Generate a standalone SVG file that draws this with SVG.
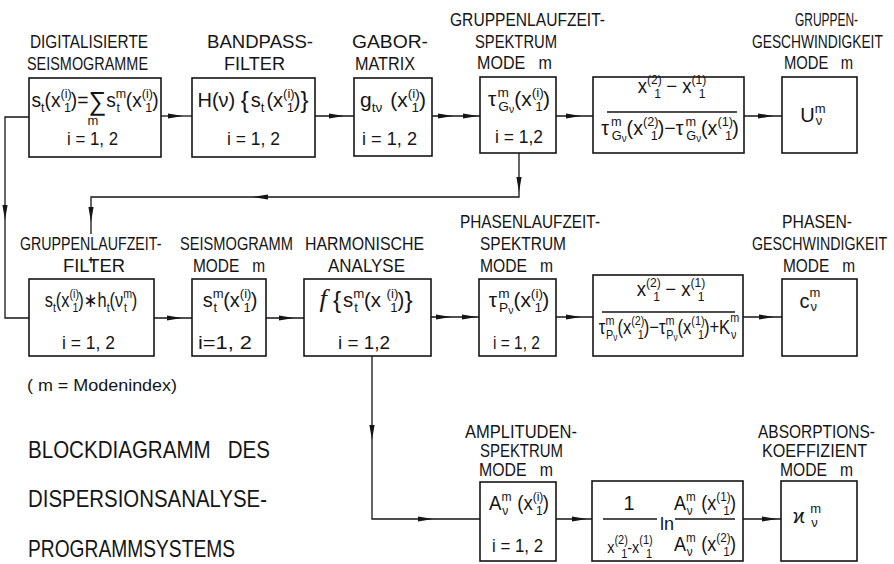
<svg xmlns="http://www.w3.org/2000/svg" width="894" height="564" viewBox="0 0 894 564">
<style>
.bx{fill:#fff;stroke:#151515;stroke-width:1.6}
.cn{fill:none;stroke:#151515;stroke-width:1.3}
.ah{fill:#151515}
text{font-family:"Liberation Sans",Arial,"DejaVu Sans",sans-serif;fill:#151515}
.lb{font-size:18px}
.f{font-size:20px;text-anchor:middle}
.sc{font-size:13px}
.ss{font-size:10px}
.big{font-size:26px}
.br{font-size:24px}
.ii{font-size:18px}
.ft{font-size:16px}
.bl{font-size:24px}
</style>
<defs>
<path id="ah" d="M0,0 L-15,-2.6 L-15,2.6 Z"/>
</defs>
<rect width="894" height="564" fill="#fff"/>

<g id="connectors">
<path class="cn" d="M29,117 H5 V318 H29"/>
<path class="cn" d="M161,116 H192"/>
<path class="cn" d="M315,116 H354"/>
<path class="cn" d="M432,116 H480"/>
<path class="cn" d="M556,116 H593"/>
<path class="cn" d="M744,116 H782"/>
<path class="cn" d="M519,153 V197 H91 V234"/>
<path class="cn" d="M91,257 V263"/>
<path class="cn" d="M154,318 H192"/>
<path class="cn" d="M266,318 H304"/>
<path class="cn" d="M431,317 H479"/>
<path class="cn" d="M556,317 H593"/>
<path class="cn" d="M743,317 H782"/>
<path class="cn" d="M372,356 V519 H480"/>
<path class="cn" d="M556,519 H592"/>
<path class="cn" d="M743,519 H781"/>
<use href="#ah" class="ah" transform="translate(5,220) rotate(90)"/>
<use href="#ah" class="ah" transform="translate(183,116)"/>
<use href="#ah" class="ah" transform="translate(344,116)"/>
<use href="#ah" class="ah" transform="translate(453,116)"/>
<use href="#ah" class="ah" transform="translate(478,116)"/>
<use href="#ah" class="ah" transform="translate(581,116)"/>
<use href="#ah" class="ah" transform="translate(773,116)"/>
<use href="#ah" class="ah" transform="translate(519,192) rotate(90)"/>
<use href="#ah" class="ah" transform="translate(253,197) rotate(180)"/>
<use href="#ah" class="ah" transform="translate(91,222) rotate(90)"/>
<use href="#ah" class="ah" transform="translate(182,318)"/>
<use href="#ah" class="ah" transform="translate(294,318)"/>
<use href="#ah" class="ah" transform="translate(451,317)"/>
<use href="#ah" class="ah" transform="translate(477,317)"/>
<use href="#ah" class="ah" transform="translate(581,317)"/>
<use href="#ah" class="ah" transform="translate(774,317)"/>
<use href="#ah" class="ah" transform="translate(372,440) rotate(90)"/>
<use href="#ah" class="ah" transform="translate(433,519)"/>
<use href="#ah" class="ah" transform="translate(587,519)"/>
<use href="#ah" class="ah" transform="translate(777,519)"/>
</g>

<g id="n-digital">
<text class="lb" x="30" y="48" textLength="118" lengthAdjust="spacingAndGlyphs">DIGITALISIERTE</text>
<text class="lb" x="27" y="70" textLength="121" lengthAdjust="spacingAndGlyphs">SEISMOGRAMME</text>
<rect class="bx" x="29" y="78" width="132" height="79"/>
<text class="f" transform="translate(95,107) scale(0.96,1)">s<tspan class="sc" dy="5">t</tspan><tspan dy="-5">(x</tspan><tspan class="sc" dy="-9">(i)</tspan><tspan class="sc" dx="-8" dy="14">1</tspan><tspan dy="-5">)=</tspan><tspan class="big" dy="3">∑</tspan><tspan dy="-3">s</tspan><tspan class="sc" dy="-9">m</tspan><tspan class="sc" dx="-10" dy="14">t</tspan><tspan dx="6" dy="-5">(x</tspan><tspan class="sc" dy="-9">(i)</tspan><tspan class="sc" dx="-8" dy="14">1</tspan><tspan dy="-5">)</tspan></text>
<text class="sc" x="93" y="125" text-anchor="middle">m</text>
<text class="ii" x="67" y="145" textLength="51" lengthAdjust="spacingAndGlyphs">i = 1, 2</text>
</g>

<g id="n-bandpass">
<text class="lb" x="207" y="48" textLength="106" lengthAdjust="spacingAndGlyphs">BANDPASS-</text>
<text class="lb" x="224" y="70" textLength="61" lengthAdjust="spacingAndGlyphs">FILTER</text>
<rect class="bx" x="192" y="78" width="123" height="79"/>
<text class="f" transform="translate(253,107)">H(ν) <tspan class="br" dy="1">{</tspan><tspan dx="2" dy="-1">s</tspan><tspan class="sc" dy="5">t</tspan><tspan dx="2" dy="-5">(x</tspan><tspan class="sc" dy="-9">(i)</tspan><tspan class="sc" dx="-8" dy="14">1</tspan><tspan dy="-5">)</tspan><tspan class="br" dy="1">}</tspan></text>
<text class="ii" x="227" y="145" textLength="53" lengthAdjust="spacingAndGlyphs">i = 1, 2</text>
</g>

<g id="n-gabor">
<text class="lb" x="352" y="48" textLength="76" lengthAdjust="spacingAndGlyphs">GABOR-</text>
<text class="lb" x="355" y="70" textLength="60" lengthAdjust="spacingAndGlyphs">MATRIX</text>
<rect class="bx" x="354" y="78" width="78" height="78"/>
<text class="f" transform="translate(393,107) scale(1.05,1)">g<tspan class="sc" dy="5">tν</tspan><tspan dx="2" dy="-5"> (x</tspan><tspan class="sc" dy="-9">(i)</tspan><tspan class="sc" dx="-8" dy="14">1</tspan><tspan dy="-5">)</tspan></text>
<text class="ii" x="362" y="145" textLength="55" lengthAdjust="spacingAndGlyphs">i = 1, 2</text>
</g>

<g id="n-gruppenlaufzeitspektrum">
<text class="lb" x="450" y="26" textLength="155" lengthAdjust="spacingAndGlyphs">GRUPPENLAUFZEIT-</text>
<text class="lb" x="475" y="48" textLength="82" lengthAdjust="spacingAndGlyphs">SPEKTRUM</text>
<text class="lb" x="477" y="69" textLength="75" lengthAdjust="spacingAndGlyphs" xml:space="preserve">MODE   m</text>
<rect class="bx" x="480" y="77" width="76" height="76"/>
<text class="f" transform="translate(519,106) scale(1.05,1)">τ<tspan class="sc" dx="1" dy="-9">m</tspan><tspan class="sc" dx="-10" dy="14">G</tspan><tspan class="ss" dy="2">ν</tspan><tspan dy="-7">(x</tspan><tspan class="sc" dy="-9">(i)</tspan><tspan class="sc" dx="-8" dy="14">1</tspan><tspan dy="-5">)</tspan></text>
<text class="ii" x="495" y="143" textLength="48" lengthAdjust="spacingAndGlyphs">i = 1,2</text>
</g>

<g id="n-gruppenformel">
<rect class="bx" x="593" y="77" width="151" height="76"/>
<text class="f" transform="translate(672,93) scale(0.93,1)">x<tspan class="sc" dy="-9">(2)</tspan><tspan class="sc" dx="-8" dy="14">1</tspan><tspan dy="-5">  −  x</tspan><tspan class="sc" dy="-9">(1)</tspan><tspan class="sc" dx="-8" dy="14">1</tspan></text>
<path class="cn" d="M607,112 H737"/>
<text class="f" transform="translate(670,135) scale(0.98,1)">τ<tspan class="sc" dx="2" dy="-9">m</tspan><tspan class="sc" dx="-10" dy="14">G</tspan><tspan class="ss" dy="2">ν</tspan><tspan dy="-7">(x</tspan><tspan class="sc" dy="-9">(2)</tspan><tspan class="sc" dx="-8" dy="14">1</tspan><tspan dy="-5">)−τ</tspan><tspan class="sc" dx="2" dy="-9">m</tspan><tspan class="sc" dx="-10" dy="14">G</tspan><tspan class="ss" dy="2">ν</tspan><tspan dy="-7">(x</tspan><tspan class="sc" dy="-9">(1)</tspan><tspan class="sc" dx="-8" dy="14">1</tspan><tspan dy="-5">)</tspan></text>
</g>

<g id="n-gruppengeschwindigkeit">
<text class="lb" x="795" y="26" textLength="63" lengthAdjust="spacingAndGlyphs">GRUPPEN-</text>
<text class="lb" transform="translate(752,48) scale(0.766,1)">GESCHWINDIGKEIT</text>
<text class="lb" x="784" y="69" textLength="69" lengthAdjust="spacingAndGlyphs" xml:space="preserve">MODE   m</text>
<rect class="bx" x="782" y="77" width="75" height="76"/>
<text class="f" transform="translate(813,122)">U<tspan class="sc" dy="-9">m</tspan><tspan class="sc" dx="-10" dy="12">ν</tspan></text>
</g>

<g id="n-gruppenlaufzeitfilter">
<text class="lb" transform="translate(20,250) scale(0.79,1)">GRUPPENLAUFZEIT-</text>
<text class="lb" x="63" y="272" textLength="62" lengthAdjust="spacingAndGlyphs">FILTER</text>
<rect class="bx" x="29" y="279" width="125" height="77"/>
<text class="f" transform="translate(91,307) scale(0.82,1)">s<tspan class="sc" dy="5">t</tspan><tspan dy="-5">(x</tspan><tspan class="sc" dy="-9">(i)</tspan><tspan class="sc" dx="-8" dy="14">1</tspan><tspan dy="-5">)∗h</tspan><tspan class="sc" dy="5">t</tspan><tspan dy="-5">(ν</tspan><tspan class="sc" dy="-9">m</tspan><tspan class="sc" dx="-10" dy="14">t</tspan><tspan dx="6" dy="-5">)</tspan></text>
<text class="ii" x="62" y="349" textLength="53" lengthAdjust="spacingAndGlyphs">i = 1, 2</text>
</g>

<g id="n-seismogramm">
<text class="lb" x="180" y="250" textLength="113" lengthAdjust="spacingAndGlyphs">SEISMOGRAMM</text>
<text class="lb" x="193" y="272" textLength="72" lengthAdjust="spacingAndGlyphs" xml:space="preserve">MODE   m</text>
<rect class="bx" x="192" y="279" width="74" height="77"/>
<text class="f" transform="translate(230,307)">s<tspan class="sc" dy="-9">m</tspan><tspan class="sc" dx="-10" dy="14">t</tspan><tspan dx="6" dy="-5">(x</tspan><tspan class="sc" dy="-9">(i)</tspan><tspan class="sc" dx="-8" dy="14">1</tspan><tspan dy="-5">)</tspan></text>
<text class="ii" x="198" y="349" textLength="54" lengthAdjust="spacingAndGlyphs">i=1, 2</text>
</g>

<g id="n-harmonisch">
<text class="lb" x="305" y="250" textLength="119" lengthAdjust="spacingAndGlyphs">HARMONISCHE</text>
<text class="lb" x="328" y="272" textLength="77" lengthAdjust="spacingAndGlyphs">ANALYSE</text>
<rect class="bx" x="304" y="279" width="127" height="77"/>
<text class="f" transform="translate(366,307) scale(1.02,1)"><tspan font-family="Liberation Serif" font-style="italic" font-size="26">f</tspan><tspan dx="6" class="br" dy="1">{</tspan><tspan dx="2" dy="-1">s</tspan><tspan class="sc" dy="-9">m</tspan><tspan class="sc" dx="-10" dy="14">t</tspan><tspan dx="6" dy="-5">(x </tspan><tspan class="sc" dy="-9">(i)</tspan><tspan class="sc" dx="-8" dy="14">1</tspan><tspan dy="-5">)</tspan><tspan class="br" dy="1">}</tspan></text>
<text class="ii" x="338" y="349" textLength="52" lengthAdjust="spacingAndGlyphs">i = 1,2</text>
</g>

<g id="n-phasenlaufzeitspektrum">
<text class="lb" x="460" y="228" textLength="140" lengthAdjust="spacingAndGlyphs">PHASENLAUFZEIT-</text>
<text class="lb" x="480" y="250" textLength="86" lengthAdjust="spacingAndGlyphs">SPEKTRUM</text>
<text class="lb" x="480" y="272" textLength="73" lengthAdjust="spacingAndGlyphs" xml:space="preserve">MODE   m</text>
<rect class="bx" x="479" y="279" width="77" height="77"/>
<text class="f" transform="translate(519,307) scale(1.05,1)">τ<tspan class="sc" dx="1" dy="-9">m</tspan><tspan class="sc" dx="-10" dy="14">P</tspan><tspan class="ss" dy="2">ν</tspan><tspan dy="-7">(x</tspan><tspan class="sc" dy="-9">(i)</tspan><tspan class="sc" dx="-8" dy="14">1</tspan><tspan dy="-5">)</tspan></text>
<text class="ii" x="493" y="349" textLength="47" lengthAdjust="spacingAndGlyphs">i = 1, 2</text>
</g>

<g id="n-phasenformel">
<rect class="bx" x="593" y="275" width="150" height="81"/>
<text class="f" transform="translate(671,296) scale(0.93,1)">x<tspan class="sc" dy="-9">(2)</tspan><tspan class="sc" dx="-8" dy="14">1</tspan><tspan dy="-5">  −  x</tspan><tspan class="sc" dy="-9">(1)</tspan><tspan class="sc" dx="-8" dy="14">1</tspan></text>
<path class="cn" d="M602,312 H735"/>
<text class="f" transform="translate(669,334) scale(0.83,1)">τ<tspan class="sc" dy="-9">m</tspan><tspan class="sc" dx="-10" dy="14">P</tspan><tspan class="ss" dy="2">ν</tspan><tspan dy="-7">(x</tspan><tspan class="sc" dy="-9">(2)</tspan><tspan class="sc" dx="-8" dy="14">1</tspan><tspan dy="-5">)−τ</tspan><tspan class="sc" dy="-9">m</tspan><tspan class="sc" dx="-10" dy="14">P</tspan><tspan class="ss" dy="2">ν</tspan><tspan dy="-7">(x</tspan><tspan class="sc" dy="-9">(1)</tspan><tspan class="sc" dx="-8" dy="14">1</tspan><tspan dy="-5">)+K</tspan><tspan class="sc" dy="-12">m</tspan><tspan class="sc" dx="-10" dy="17">ν</tspan></text>
</g>

<g id="n-phasengeschwindigkeit">
<text class="lb" x="782" y="228" textLength="70" lengthAdjust="spacingAndGlyphs">PHASEN-</text>
<text class="lb" transform="translate(752,250) scale(0.79,1)">GESCHWINDIGKEIT</text>
<text class="lb" x="783" y="272" textLength="72" lengthAdjust="spacingAndGlyphs" xml:space="preserve">MODE   m</text>
<rect class="bx" x="782" y="279" width="75" height="77"/>
<text class="f" transform="translate(810,308)">c<tspan class="sc" dy="-11">m</tspan><tspan class="sc" dx="-10" dy="14">ν</tspan></text>
</g>

<g id="n-amplitudenspektrum">
<text class="lb" x="465" y="438" textLength="112" lengthAdjust="spacingAndGlyphs">AMPLITUDEN-</text>
<text class="lb" x="480" y="457" textLength="83" lengthAdjust="spacingAndGlyphs">SPEKTRUM</text>
<text class="lb" x="479" y="476" textLength="74" lengthAdjust="spacingAndGlyphs" xml:space="preserve">MODE   m</text>
<rect class="bx" x="480" y="482" width="76" height="79"/>
<text class="f" transform="translate(519,510) scale(0.93,1)">A<tspan class="sc" dy="-9">m</tspan><tspan class="sc" dx="-10" dy="14">ν</tspan><tspan dx="4" dy="-5"> (x</tspan><tspan class="sc" dy="-9">(i)</tspan><tspan class="sc" dx="-8" dy="14">1</tspan><tspan dy="-5">)</tspan></text>
<text class="ii" x="492" y="552" textLength="51" lengthAdjust="spacingAndGlyphs">i = 1, 2</text>
</g>

<g id="n-absorptionsformel">
<rect class="bx" x="592" y="481" width="151" height="80"/>
<text class="f" x="629" y="510">1</text>
<path class="cn" d="M603,519 H657"/>
<text class="f" transform="translate(630,553) scale(0.85,1)" style="font-size:17px">x<tspan class="sc" dy="-9">(2)</tspan><tspan class="sc" dx="-8" dy="14">1</tspan><tspan dy="-5">-x</tspan><tspan class="sc" dy="-9">(1)</tspan><tspan class="sc" dx="-8" dy="14">1</tspan></text>
<text class="f" x="667" y="530" style="font-size:18px">ln</text>
<text class="f" transform="translate(705,510) scale(0.9,1)">A<tspan class="sc" dy="-9">m</tspan><tspan class="sc" dx="-10" dy="14">ν</tspan><tspan dx="4" dy="-5"> (x</tspan><tspan class="sc" dy="-9">(1)</tspan><tspan class="sc" dx="-8" dy="14">1</tspan><tspan dy="-5">)</tspan></text>
<path class="cn" d="M675,519 H735"/>
<text class="f" transform="translate(705,551) scale(0.9,1)">A<tspan class="sc" dy="-9">m</tspan><tspan class="sc" dx="-10" dy="14">ν</tspan><tspan dx="4" dy="-5"> (x</tspan><tspan class="sc" dy="-9">(2)</tspan><tspan class="sc" dx="-8" dy="14">1</tspan><tspan dy="-5">)</tspan></text>
</g>

<g id="n-absorptionskoeffizient">
<text class="lb" x="758" y="438" textLength="117" lengthAdjust="spacingAndGlyphs">ABSORPTIONS-</text>
<text class="lb" x="762" y="457" textLength="105" lengthAdjust="spacingAndGlyphs">KOEFFIZIENT</text>
<text class="lb" x="780" y="476" textLength="73" lengthAdjust="spacingAndGlyphs" xml:space="preserve">MODE   m</text>
<rect class="bx" x="781" y="481" width="76" height="80"/>
<text class="f" transform="translate(807,523)">ϰ <tspan class="sc" dy="-10">m</tspan><tspan class="sc" dx="-10" dy="14">ν</tspan></text>
</g>

<g id="legend">
<text class="ft" x="27" y="391" textLength="150" lengthAdjust="spacingAndGlyphs">( m = Modenindex)</text>
<text class="bl" x="28" y="458" textLength="242" lengthAdjust="spacingAndGlyphs" xml:space="preserve">BLOCKDIAGRAMM   DES</text>
<text class="bl" x="28" y="507" textLength="239" lengthAdjust="spacingAndGlyphs">DISPERSIONSANALYSE-</text>
<text class="bl" x="28" y="557" textLength="207" lengthAdjust="spacingAndGlyphs">PROGRAMMSYSTEMS</text>
</g>
</svg>
